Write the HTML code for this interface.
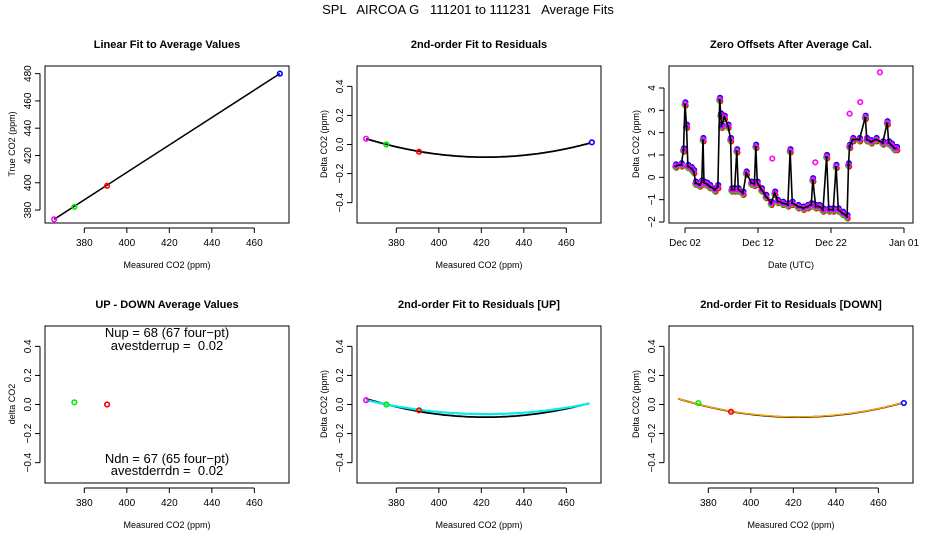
<!DOCTYPE html>
<html><head><meta charset="utf-8"><style>
html,body{margin:0;padding:0;background:#fff;}
svg{display:block;font-family:"Liberation Sans",sans-serif;}
</style></head><body>
<svg id="c" width="936" height="540" viewBox="0 0 936 540"></svg>
<script>
// ---- data ----
const calMeasured = [365.8, 375.3, 390.7, 472.0];
const calTrue = [373.2, 382.3, 397.8, 480.0];
const calColors = ["#ff00ff", "#00ee00", "#ff0000", "#0000ff"];
const calResid = [0.04, 0.0, -0.05, 0.015];
const upResid = [0.03, 0.0, -0.04, 0.005];
const dnResid = [0.03, 0.01, -0.05, 0.01];
const upDownX = [375.3, 390.7];
const upDownY = [0.015, 0.0];
const upDownColors = ["#00ee00", "#ff0000"];
// quadratic fits: [center, min, curvature]
const fitAll = [422, -0.087, 4.02e-5];
const fitUp = [422, -0.066, 3.04e-5];
const fitDn = [422, -0.085, 3.95e-5];
const co2Ticks = [380, 400, 420, 440, 460];
const trueTicks = [380, 400, 420, 440, 460, 480];
const deltaTicks = [-0.4, -0.2, 0.0, 0.2, 0.4];
const deltaTickLabels = ["−0.4", "−0.2", "0.0", "0.2", "0.4"];
const offTicks = [-2, -1, 0, 1, 2, 3, 4];
const offTickLabels = ["−2", "−1", "0", "1", "2", "3", "4"];
const dateTicks = [2, 12, 22, 32];
const dateTickLabels = ["Dec 02", "Dec 12", "Dec 22", "Jan 01"];
const tsDay = [0.72,1.5,1.8,2.0,2.2,2.4,2.87,3.2,3.46,4.0,4.3,4.47,4.6,5.0,5.4,6.1,6.5,6.75,6.9,7.0,7.4,7.9,8.25,8.4,8.8,9.1,9.3,9.95,10.4,11.1,11.5,11.7,11.9,12.5,13.1,13.8,14.3,14.7,15.4,16.1,16.4,16.7,17.5,18.2,18.8,19.3,19.5,19.9,20.4,20.9,21.4,21.7,22.3,22.7,23.0,23.6,24.2,24.4,24.55,25.0,25.9,26.7,26.9,27.5,28.2,29.1,29.7,29.9,30.3,30.7,31.0];
const tsVal = [0.52,0.57,1.24,3.3,2.3,0.5,0.4,0.27,-0.25,-0.33,-0.2,1.7,-0.25,-0.3,-0.4,-0.55,-0.4,3.5,2.8,2.3,2.7,2.3,1.7,-0.55,-0.55,1.2,-0.55,-0.7,0.2,-0.25,-0.3,1.4,-0.25,-0.55,-0.85,-1.15,-0.7,-1.07,-1.15,-1.22,1.2,-1.15,-1.3,-1.37,-1.3,-1.22,-0.1,-1.3,-1.3,-1.45,0.94,-1.45,-1.45,0.5,-1.45,-1.6,-1.75,0.57,1.4,1.7,1.7,2.7,1.7,1.6,1.7,1.55,2.45,1.55,1.45,1.3,1.3];
const outDay = [13.95, 19.85, 26.0, 28.7, 24.55];
const outVal = [0.84, 0.67, 3.37, 4.7, 2.85];

const svg = document.getElementById('c');
const NS = 'http://www.w3.org/2000/svg';
function mk(tag, attrs, parent, text){
  const e = document.createElementNS(NS, tag);
  for (const k in attrs) e.setAttribute(k, attrs[k]);
  if (text !== undefined) e.textContent = text;
  (parent || svg).appendChild(e);
  return e;
}
function lin(d0,d1,r0,r1){return v => r0 + (v-d0)*(r1-r0)/(d1-d0);}

function title(t, cx, y, name){
  const e = mk('text',{x:cx,y:y,'text-anchor':'middle','font-size':11,'font-weight':'bold'},svg,t);
  
  
}
function panel(px, py, name){
  const g = mk('g',{});
  
  
  mk('rect',{x:px,y:py,width:244,height:157,fill:'none',stroke:'#000','stroke-width':1},g);
  return g;
}
function xAxis(g, px, py, ticks, labels, sx, lab){
  const ax = mk('g',{},g);
  
  
  const yb = py+157;
  mk('line',{x1:sx(ticks[0]),x2:sx(ticks[ticks.length-1]),y1:yb+5,y2:yb+5,stroke:'#000'},ax);
  ticks.forEach((t,i)=>{
    mk('line',{x1:sx(t),x2:sx(t),y1:yb+5,y2:yb+10,stroke:'#000'},ax);
    mk('text',{x:sx(t),y:yb+23,'text-anchor':'middle','font-size':10},ax,labels[i]);
  });
  const l = mk('text',{x:px+122,y:yb+45,'text-anchor':'middle','font-size':9},g,lab);
  
  
}
function yAxis(g, px, py, ticks, labels, sy, lab){
  const ax = mk('g',{},g);
  
  
  const xl = px-5;
  mk('line',{x1:xl,x2:xl,y1:sy(ticks[0]),y2:sy(ticks[ticks.length-1]),stroke:'#000'},ax);
  ticks.forEach((t,i)=>{
    mk('line',{x1:xl,x2:xl-5,y1:sy(t),y2:sy(t),stroke:'#000'},ax);
    mk('text',{x:0,y:0,transform:`translate(${xl-9},${sy(t)}) rotate(-90)`,'text-anchor':'middle','font-size':10},ax,labels[i]);
  });
  const l = mk('text',{x:0,y:0,transform:`translate(${px-30},${py+78}) rotate(-90)`,'text-anchor':'middle','font-size':9},g,lab);
  
  
}
function pt(g,x,y,col,name){
  const c = mk('circle',{cx:x,cy:y,r:2.3,fill:'none',stroke:col,'stroke-width':1.6},g);
  
  
}
function curve(g, fit, sx, sy, col, w, name){
  let d='';
  for(let x=365.8;x<=472.01;x+=1.5){
    const y = fit[1] + fit[2]*(x-fit[0])*(x-fit[0]);
    d += (d?'L':'M')+sx(x).toFixed(1)+','+sy(y).toFixed(1);
  }
  const p = mk('path',{d:d,fill:'none',stroke:col,'stroke-width':w},g);
  
  
}

// main title
const mt = mk('text',{x:468,y:14,'text-anchor':'middle','font-size':13},svg,'SPL   AIRCOA G   111201 to 111231   Average Fits');


mt.setAttribute('xml:space','preserve');
mt.style.whiteSpace='pre';

const X0=[45,357,669], Y0=[66,326];
const co2Lab = co2Ticks.map(String);

// Panel 1
{
  const px=X0[0], py=Y0[0];
  title('Linear Fit to Average Values', px+122, 48, 'panel-title-linear-fit');
  const g = panel(px,py,'linear-fit-panel');
  const sx = lin(361.5,476.3,px,px+244), sy = lin(370.5,485.6,py+157,py);
  xAxis(g,px,py,co2Ticks,co2Lab,sx,'Measured CO2 (ppm)');
  yAxis(g,px,py,trueTicks,trueTicks.map(String),sy,'True CO2 (ppm)');
  const l = mk('line',{x1:sx(calMeasured[0]),y1:sy(calTrue[0]),x2:sx(calMeasured[3]),y2:sy(calTrue[3]),stroke:'#000','stroke-width':1.5},g);
   
  calMeasured.forEach((m,i)=>pt(g,sx(m),sy(calTrue[i]),calColors[i],'cal-point'));
}
// Panel 2
{
  const px=X0[1], py=Y0[0];
  title('2nd-order Fit to Residuals', px+122, 48, 'panel-title-residuals');
  const g = panel(px,py,'residual-fit-panel');
  const sx = lin(361.5,476.3,px,px+244), sy = lin(-0.54,0.54,py+157,py);
  xAxis(g,px,py,co2Ticks,co2Lab,sx,'Measured CO2 (ppm)');
  yAxis(g,px,py,deltaTicks,deltaTickLabels,sy,'Delta CO2 (ppm)');
  curve(g,fitAll,sx,sy,'#000',1.8,'fit-curve');
  calMeasured.forEach((m,i)=>pt(g,sx(m),sy(calResid[i]),calColors[i],'residual-point'));
}
// Panel 3
{
  const px=X0[2], py=Y0[0];
  title('Zero Offsets After Average Cal.', px+122, 48, 'panel-title-zero-offsets');
  const g = panel(px,py,'zero-offsets-panel');
  const sx = lin(2,32,685,904), sy = lin(-2,4,222,88);
  xAxis(g,px,py,dateTicks,dateTickLabels,sx,'Date (UTC)');
  yAxis(g,px,py,offTicks,offTickLabels,sy,'Delta CO2 (ppm)');
  const offs = [['#ff0000',-0.09,0.08],['#00ee00',-0.05,-0.06],['#0000ff',0.06,0.05],['#ff00ff',0,0]];
  offs.forEach(o=>{
    tsDay.forEach((d,i)=>pt(g,sx(d+o[2]),sy(tsVal[i]+o[1]),o[0],'offset-point'));
  });
  outDay.forEach((d,i)=>pt(g,sx(d),sy(outVal[i]),'#ff00ff','outlier-point'));
  let dd=''; tsDay.forEach((d,i)=>{dd+=(i?'L':'M')+sx(d).toFixed(1)+','+sy(tsVal[i]).toFixed(1);});
  const p = mk('path',{d:dd,fill:'none',stroke:'#000','stroke-width':1.6},g);
   
}
// Panel 4
{
  const px=X0[0], py=Y0[1];
  title('UP - DOWN Average Values', px+122, 308, 'panel-title-up-down');
  const g = panel(px,py,'up-down-panel');
  const sx = lin(361.5,476.3,px,px+244), sy = lin(-0.54,0.54,py+157,py);
  xAxis(g,px,py,co2Ticks,co2Lab,sx,'Measured CO2 (ppm)');
  yAxis(g,px,py,deltaTicks,deltaTickLabels,sy,'delta CO2');
  upDownX.forEach((x,i)=>pt(g,sx(x),sy(upDownY[i]),upDownColors[i],'up-down-point'));
  const txt=[['Nup = 68 (67 four−pt)',337],['avestderrup =  0.02',350],['Ndn = 67 (65 four−pt)',463],['avestderrdn =  0.02',475]];
  txt.forEach(t=>{
    const e = mk('text',{x:px+122,y:t[1],'text-anchor':'middle','font-size':13},g,t[0]);
    e.style.whiteSpace='pre';
    
    
  });
}
// Panel 5
{
  const px=X0[1], py=Y0[1];
  title('2nd-order Fit to Residuals [UP]', px+122, 308, 'panel-title-residuals-up');
  const g = panel(px,py,'residual-up-panel');
  const sx = lin(361.5,476.3,px,px+244), sy = lin(-0.54,0.54,py+157,py);
  xAxis(g,px,py,co2Ticks,co2Lab,sx,'Measured CO2 (ppm)');
  yAxis(g,px,py,deltaTicks,deltaTickLabels,sy,'Delta CO2 (ppm)');
  curve(g,fitAll,sx,sy,'#000',1.8,'fit-curve');
  curve(g,fitUp,sx,sy,'#00eeee',2.2,'up-fit-curve');
  calMeasured.forEach((m,i)=>{ if(i<3) pt(g,sx(m),sy(upResid[i]),calColors[i],'up-residual-point'); });
}
// Panel 6
{
  const px=X0[2], py=Y0[1];
  title('2nd-order Fit to Residuals [DOWN]', px+122, 308, 'panel-title-residuals-down');
  const g = panel(px,py,'residual-down-panel');
  const sx = lin(361.5,476.3,px,px+244), sy = lin(-0.54,0.54,py+157,py);
  xAxis(g,px,py,co2Ticks,co2Lab,sx,'Measured CO2 (ppm)');
  yAxis(g,px,py,deltaTicks,deltaTickLabels,sy,'Delta CO2 (ppm)');
  curve(g,fitAll,sx,sy,'#000',1.8,'fit-curve');
  curve(g,fitDn,sx,sy,'#ffa500',1.4,'down-fit-curve');
  calMeasured.forEach((m,i)=>{ if(i>0) pt(g,sx(m),sy(dnResid[i]),calColors[i],'down-residual-point'); });
}
</script>
</body></html>
